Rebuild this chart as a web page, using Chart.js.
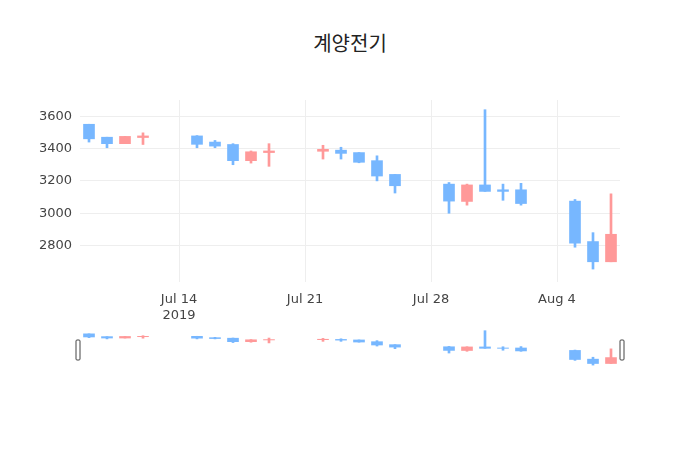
<!DOCTYPE html>
<html><head><meta charset="utf-8">
<script src="https://cdn.jsdelivr.net/npm/chart.js@4"></script>
<style>body{margin:0;background:#fff;}#w{position:relative;width:700px;height:450px;}
canvas{position:absolute;left:0;}</style></head>
<body><div id="w">
<div style="position:absolute;top:28px;width:700px;text-align:center;font:20px 'Noto Sans CJK KR','Noto Sans',sans-serif;color:#222">계양전기</div>
<canvas id="c" style="top:0" width="700" height="330"></canvas>
<canvas id="s" style="top:325px" width="700" height="50"></canvas>
</div>
<script>
const dates = ["2019-07-09","2019-07-10","2019-07-11","2019-07-12","2019-07-15","2019-07-16","2019-07-17","2019-07-18","2019-07-19","2019-07-22","2019-07-23","2019-07-24","2019-07-25","2019-07-26","2019-07-29","2019-07-30","2019-07-31","2019-08-01","2019-08-02","2019-08-05","2019-08-06","2019-08-07"];
const openV  = [3550,3470,3430,3468,3478,3440,3425,3325,3375,3383,3390,3375,3325,3240,3180,3073,3175,3145,3145,3075,2825,2700];
const highV  = [3550,3470,3475,3497,3480,3450,3430,3385,3430,3420,3408,3375,3355,3240,3190,3180,3640,3180,3185,3085,2880,3120];
const lowV   = [3440,3405,3430,3425,3405,3405,3300,3310,3290,3335,3335,3312,3200,3125,3000,3050,3135,3080,3050,2790,2655,2700];
const closeV = [3460,3430,3475,3478,3426,3415,3325,3380,3385,3395,3370,3315,3230,3170,3075,3175,3135,3135,3060,2815,2700,2870];
const yTicks = [2800,3000,3200,3400,3600];
const xTickDates = ["2019-07-14","2019-07-21","2019-07-28","2019-08-04"];
const xTickLabels = [["Jul 14","2019"],["Jul 21"],["Jul 28"],["Aug 4"]];

const DAY=86400000, t0=Date.parse(dates[0]);
const dx = d => (Date.parse(d)-t0)/DAY;
const up = openV.map((o,i)=>closeV[i]>=o);
const colors = up.map(u=>u?'#ff9999':'#77b7ff');
const bodies = dates.map((d,i)=>({x:dx(d),y:[Math.min(openV[i],closeV[i]),Math.max(openV[i],closeV[i])+(openV[i]===closeV[i]?2:0)]}));
const wicks = dates.map((d,i)=>({x:dx(d),y:[lowV[i],highV[i]]}));
const tickX = xTickDates.map(dx);

function ds(w1,w2){return [
 {data:bodies,backgroundColor:colors,barThickness:w1,grouped:false,order:1},
 {data:wicks,backgroundColor:colors,barThickness:w2,grouped:false,order:2}];}

Chart.defaults.font.family="'DejaVu Sans',sans-serif";
new Chart(document.getElementById('c'),{type:'bar',
 data:{datasets:ds(11,2)},
 options:{responsive:false,animation:false,events:[],
  layout:{padding:{top:100,right:80,left:0,bottom:0}},
  plugins:{legend:{display:false},tooltip:{enabled:false}},
  scales:{
   x:{type:'linear',offset:false,min:-0.5,max:29.5,grid:{color:'#eee',drawTicks:false,offset:false},border:{display:false},
      afterBuildTicks:a=>{a.ticks=tickX.map(v=>({value:v}));},
      afterFit:a=>{a.height=330-282;},
      ticks:{padding:10,color:'#444',font:{size:13},maxRotation:0,autoSkip:false,
       callback:v=>{const i=tickX.indexOf(v);return i>=0?xTickLabels[i]:'';}}},
   y:{min:2575,max:3700,grid:{color:'#eee',drawTicks:false},border:{display:false},
      afterBuildTicks:a=>{a.ticks=yTicks.map(v=>({value:v}));},
      afterFit:a=>{a.width=80;},
      ticks:{padding:8,color:'#444',font:{size:13},callback:v=>String(v)}}}}});
</script>
<script>
const handles={id:'h',afterDraw(ch){const c=ch.ctx,a=ch.chartArea;c.save();
 [a.left-2,a.right+2].forEach(x=>{c.fillStyle='#fff';c.strokeStyle='#444';c.lineWidth=1;
  c.beginPath();c.roundRect(x-2,15,4,20,1);c.fill();c.stroke();});c.restore();}};
new Chart(document.getElementById('s'),{type:'bar',
 data:{datasets:ds(11,2)},plugins:[handles],
 options:{responsive:false,animation:false,events:[],
  layout:{padding:{top:5,right:80,left:80,bottom:8}},
  plugins:{legend:{display:false},tooltip:{enabled:false}},
  scales:{x:{type:'linear',offset:false,min:-0.5,max:29.5,display:false},
          y:{min:2600,max:3660,display:false}}}});
</script>
</body></html>
